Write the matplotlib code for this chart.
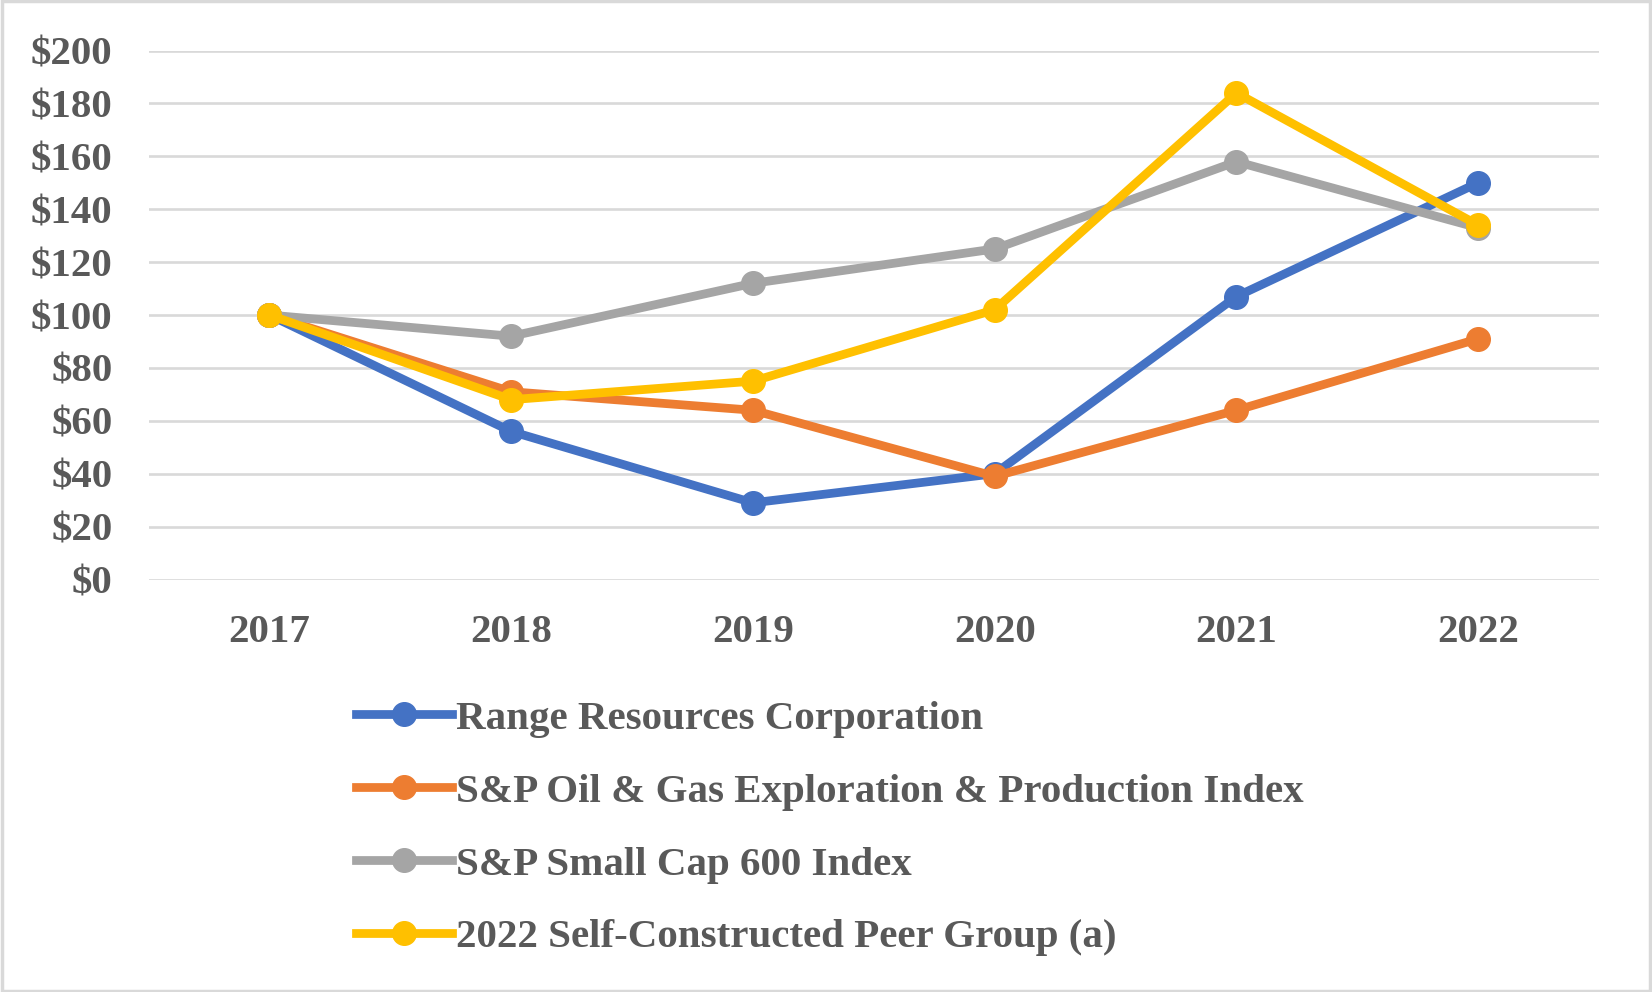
import numpy as np
import matplotlib.pyplot as plt
from matplotlib.patches import Rectangle

plt.rcParams['font.family'] = ['Liberation Serif', 'DejaVu Serif']
plt.rcParams['font.weight'] = 'bold'

years = ['2017', '2018', '2019', '2020', '2021', '2022']
range_res = [100, 56, 29, 40, 107, 150]
oil_gas = [100, 71, 64, 39, 64, 91]
small_cap = [100, 92, 112, 125, 158, 133]
peer_group = [100, 68, 75, 102, 184, 134]

labels = ['Range Resources Corporation',
          'S&P Oil & Gas Exploration & Production Index',
          'S&P Small Cap 600 Index',
          '2022 Self-Constructed Peer Group (a)']
colors = ['#4472C4', '#ED7D31', '#A5A5A5', '#FFC000']
text_color = '#595959'

fig = plt.figure(figsize=(16.52, 9.92), dpi=100)
ax = fig.add_axes([148.6 / 1652, 1 - 579.5 / 992, (1599 - 148.6) / 1652, (579.5 - 50.6) / 992])

x = np.arange(len(years))
for series, c, lab in zip([range_res, oil_gas, small_cap, peer_group], colors, labels):
    ax.plot(x, series, '-o', color=c, linewidth=6.3, markersize=17, label=lab, clip_on=False, zorder=3)

ax.set_xlim(-0.5, 5.5)
ax.set_ylim(0, 200)
ax.set_yticks(np.arange(0, 201, 20))
ax.set_yticklabels(['$%d' % v for v in np.arange(0, 201, 20)])
ax.set_xticks(x)
ax.set_xticklabels(years)
ax.grid(axis='y', color='#D9D9D9', linewidth=1.9, zorder=0)
ax.set_axisbelow(True)
for s in ax.spines.values():
    s.set_visible(False)
ax.tick_params(axis='both', length=0, labelsize=29.5, labelcolor=text_color)
ax.tick_params(axis='y', pad=26)
ax.tick_params(axis='x', pad=24.5)

leg = ax.legend(loc='upper left', bbox_to_anchor=(356 / 1652, 1 - 700 / 992), bbox_transform=fig.transFigure,
                frameon=False, fontsize=29.5, handlelength=2.34, handletextpad=0.1, labelspacing=0.86,
                borderpad=0, borderaxespad=0)
for t in leg.get_texts():
    t.set_color(text_color)

fig.patches.append(Rectangle((0.001, 0.001), 0.998, 0.998, transform=fig.transFigure,
                             fill=False, edgecolor='#D9D9D9', linewidth=2.5))

plt.savefig('out.png', dpi=100)
